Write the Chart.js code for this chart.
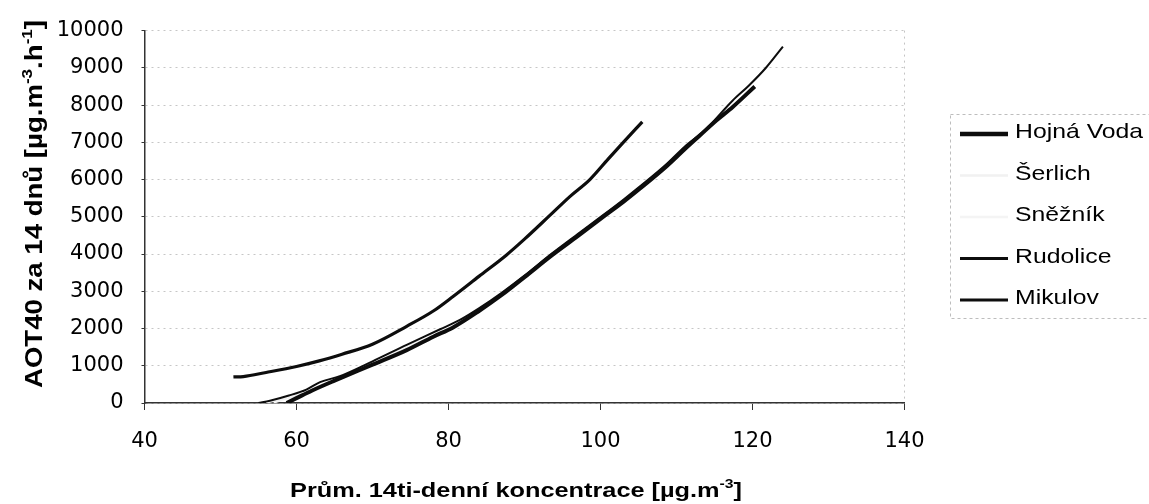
<!DOCTYPE html>
<html lang="cs">
<head>
<meta charset="utf-8">
<title>AOT40 za 14 dnů</title>
<script src="https://cdn.jsdelivr.net/npm/chart.js@4.4.1/dist/chart.umd.min.js"></script>
<style>
  html, body { margin: 0; padding: 0; background: #fff; }
  canvas { display: block; }
</style>
</head>
<body>
<canvas id="chart" width="1149" height="504"></canvas>
<script>
const stations = ['Hojná Voda', 'Šerlich', 'Sněžník', 'Rudolice', 'Mikulov'];

// průměrná 14denní koncentrace (x) a AOT40 (y)
const hojnaVodaX = [58.7, 60, 62, 65, 70, 74.5, 78, 80.6, 84, 87, 90, 93.5, 97, 100.3, 103, 105.2, 108.7, 111, 113.1, 115.2, 117.4, 120.3];
const hojnaVodaY = [0, 130, 330, 600, 1030, 1420, 1780, 2030, 2470, 2900, 3380, 3950, 4480, 4990, 5400, 5760, 6360, 6800, 7190, 7580, 7950, 8500];

const serlichX = [56, 60, 65, 70, 75, 80, 85, 90, 95, 100, 105, 110];
const serlichY = [0, 200, 620, 1060, 1530, 2000, 2620, 3380, 4180, 4990, 5760, 6600];

const sneznikX = [57, 62, 66, 70, 75, 80, 86, 92, 98, 104, 110, 116];
const sneznikY = [0, 350, 720, 1080, 1550, 2020, 2780, 3700, 4660, 5600, 6620, 7770];

const rudoliceX = [55, 56.5, 59, 61.3, 63.1, 65.7, 70, 74.5, 78.9, 81.5, 84, 87, 90, 93.5, 97, 100.3, 103, 105.2, 108.7, 111, 113.9, 117.4, 119.5, 121.8, 124];
const rudoliceY = [0, 60, 200, 360, 560, 720, 1120, 1560, 1980, 2230, 2540, 2960, 3420, 4000, 4540, 5040, 5460, 5820, 6420, 6870, 7360, 8125, 8520, 9010, 9570];

const mikulovX = [51.7, 53, 56, 60, 63, 66, 70, 74.5, 78, 80.6, 84, 87.6, 90, 93.3, 96, 98.6, 101, 103, 105.5];
const mikulovY = [700, 710, 820, 980, 1130, 1310, 1580, 2060, 2470, 2860, 3400, 3970, 4400, 5030, 5550, 6000, 6550, 7000, 7550];

const xTitle = [{ t: 'Prům. 14ti-denní koncentrace [µg.m' }, { t: '-3', sup: true }, { t: ']' }];
const yTitle = [{ t: 'AOT40 za 14 dnů [µg.m' }, { t: '-3', sup: true }, { t: '.h' }, { t: '-1', sup: true }, { t: ']' }];

const pts = (xs, ys) => xs.map((x, i) => ({ x, y: ys[i] }));
const arial = (px, bold) => `${bold ? 'bold ' : ''}${px}px "Liberation Sans", Arial, sans-serif`;

function richWidth(ctx, parts, px) {
  let w = 0;
  for (const p of parts) {
    ctx.font = arial(p.sup ? px * 0.62 : px, true);
    w += ctx.measureText(p.t).width;
  }
  return w;
}

function drawRich(ctx, parts, px, x0) {
  let x = x0;
  for (const p of parts) {
    ctx.font = arial(p.sup ? px * 0.62 : px, true);
    ctx.fillText(p.t, x, p.sup ? -px * 0.42 : 0);
    x += ctx.measureText(p.t).width;
  }
}

// popisky os (s horními indexy) a legenda v rámečku
const decor = {
  id: 'decor',
  afterDraw(chart) {
    const ctx = chart.ctx;
    ctx.save();
    ctx.fillStyle = '#000';
    ctx.textBaseline = 'alphabetic';

    let w = richWidth(ctx, xTitle, 21);
    ctx.save();
    ctx.translate(516, 497);
    ctx.scale(452 / w, 1);
    drawRich(ctx, xTitle, 21, -w / 2);
    ctx.restore();

    w = richWidth(ctx, yTitle, 23);
    ctx.save();
    ctx.translate(42, 204);
    ctx.rotate(-Math.PI / 2);
    ctx.scale(368 / w, 1);
    drawRich(ctx, yTitle, 23, -w / 2);
    ctx.restore();

    // legenda
    ctx.strokeStyle = '#bdbdbd';
    ctx.lineWidth = 1;
    ctx.setLineDash([3, 3]);
    ctx.strokeRect(950.5, 114.5, 260, 204);
    ctx.setLineDash([]);
    chart.data.datasets.forEach((ds, i) => {
      const y = 134 + i * 41.5;
      ctx.strokeStyle = ds.borderColor;
      ctx.lineWidth = ds.legendWidth;
      ctx.beginPath();
      ctx.moveTo(960, y);
      ctx.lineTo(1008, y);
      ctx.stroke();
      ctx.save();
      ctx.translate(1015, y + 4);
      ctx.scale(1.18, 1);
      ctx.font = arial(21, false);
      ctx.fillStyle = '#000';
      ctx.fillText(ds.label, 0, 0);
      ctx.restore();
    });
    ctx.restore();
  }
};

const line = (label, xs, ys, color, width, legendWidth, order) => ({
  label,
  data: pts(xs, ys),
  showLine: true,
  borderColor: color,
  backgroundColor: color,
  borderWidth: width,
  legendWidth,
  pointRadius: 0,
  cubicInterpolationMode: 'monotone',
  order,
});

const tickFont = { family: '"DejaVu Sans", sans-serif', size: 21 };

new Chart(document.getElementById('chart'), {
  type: 'scatter',
  data: {
    datasets: [
      line(stations[0], hojnaVodaX, hojnaVodaY, '#0d0d0d', 4, 4.5, 0),
      line(stations[1], serlichX, serlichY, '#f1f1f1', 1.5, 2.5, 10),
      line(stations[2], sneznikX, sneznikY, '#f4f4f4', 1.5, 2.5, 10),
      line(stations[3], rudoliceX, rudoliceY, '#0d0d0d', 2, 2.8, 1),
      line(stations[4], mikulovX, mikulovY, '#0d0d0d', 3.2, 2.8, 2),
    ],
  },
  options: {
    responsive: false,
    animation: false,
    devicePixelRatio: 1,
    layout: { padding: { top: 26, right: 244.5, left: 0, bottom: 0 } },
    plugins: { legend: { display: false }, tooltip: { enabled: false } },
    scales: {
      x: {
        type: 'linear',
        min: 40,
        max: 140,
        afterFit: s => { s.height = 101; },
        ticks: { stepSize: 20, color: '#000', font: tickFont, padding: 19, maxRotation: 0 },
        grid: {
          color: c => (c.tick && c.tick.value === 140 ? '#c4c4c4' : 'rgba(0,0,0,0)'),
          tickColor: '#333',
          tickLength: 7,
        },
        border: { color: '#333', width: 1.5, dash: [2, 4] },
      },
      y: {
        min: 0,
        max: 10000,
        afterFit: s => { s.width = 144.5; },
        ticks: { stepSize: 1000, color: '#000', font: tickFont, padding: 18, callback: v => String(v) },
        grid: { color: '#c6c6c6', tickColor: '#333', tickLength: 3 },
        border: { color: '#333', width: 1.5, dash: [2, 4] },
      },
    },
  },
  plugins: [decor],
});
</script>
</body>
</html>
